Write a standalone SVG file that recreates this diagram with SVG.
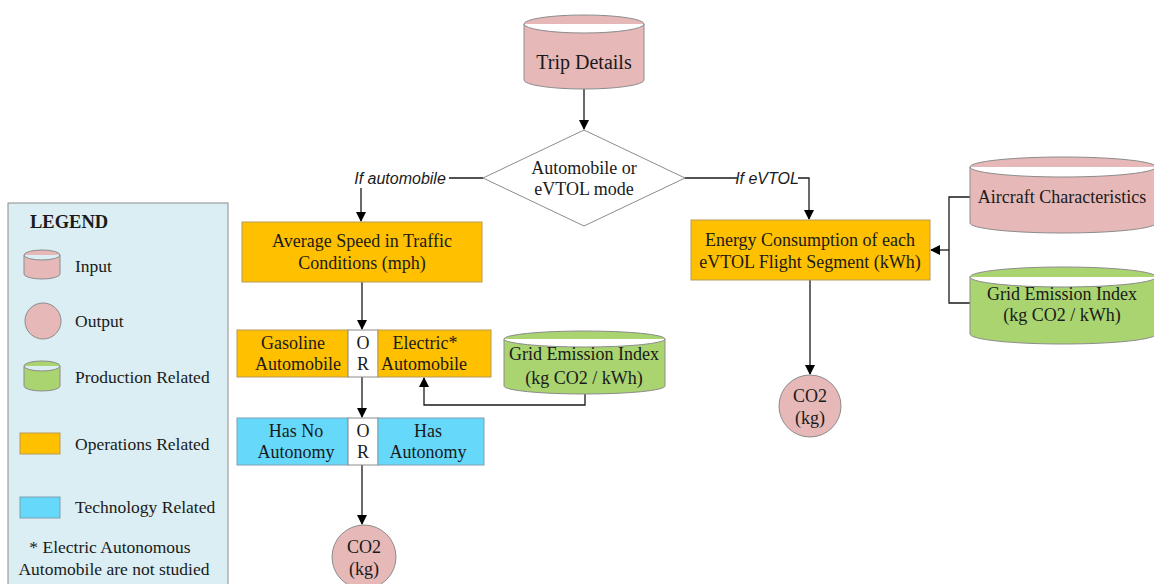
<svg xmlns="http://www.w3.org/2000/svg" width="1154" height="584" viewBox="0 0 1154 584">
<defs>
<style>
.t{font-family:"Liberation Serif","Times New Roman",serif;font-size:18px;fill:#1a1a1a;text-anchor:middle}
.tl{font-family:"Liberation Serif","Times New Roman",serif;font-size:17.5px;fill:#1a1a1a}
.lab{font-family:"Liberation Sans",Arial,sans-serif;font-size:16px;font-style:italic;fill:#1a1a1a;text-anchor:middle}
.pink{fill:#e6b8b7;stroke:#8c8c8c;stroke-width:1}
.green{fill:#a9d46f;stroke:#8c8c8c;stroke-width:1}
.orange{fill:#ffc000;stroke:#b59a5a;stroke-width:1}
.blue{fill:#66d9fb;stroke:#7f9fb0;stroke-width:1}
.white{fill:#ffffff;stroke:#8c8c8c;stroke-width:1}
.edge{fill:none;stroke:#1a1a1a;stroke-width:1.3}
</style>
<marker id="arr" markerWidth="10" markerHeight="10" refX="9" refY="5" orient="auto" markerUnits="userSpaceOnUse">
<path d="M0,0 L10,5 L0,10 z" fill="#000"/>
</marker>
</defs>
<rect width="1154" height="584" fill="#ffffff"/>

<g id="legend">
<rect x="8" y="203" width="220" height="385" fill="#daeef3" stroke="#8c8c8c"/>
<text x="30" y="228" style="font-family:'Liberation Serif',serif;font-size:18.5px;font-weight:bold;fill:#1a1a1a">LEGEND</text>
<path class="pink" d="M24,255 a18,5 0 0 1 36,0 v19 a18,5 0 0 1 -36,0 z M24,255 a18,5 0 0 0 36,0"/>
<text class="tl" x="75" y="272">Input</text>
<circle class="pink" cx="43" cy="321" r="18"/>
<text class="tl" x="75" y="327">Output</text>
<path class="green" d="M24,366 a18,5 0 0 1 36,0 v20 a18,5 0 0 1 -36,0 z M24,366 a18,5 0 0 0 36,0"/>
<text class="tl" x="75" y="383">Production Related</text>
<rect class="orange" x="20" y="433" width="40" height="21"/>
<text class="tl" x="75" y="450">Operations Related</text>
<rect class="blue" x="20" y="497" width="40" height="21"/>
<text class="tl" x="75" y="513">Technology Related</text>
<text class="t" x="110" y="553" style="font-size:17.5px">* Electric Autonomous</text>
<text class="t" x="114" y="575" style="font-size:17.5px">Automobile are not studied</text>
</g>

<g id="connectors">
<path class="edge" d="M584,89 V129" marker-end="url(#arr)"/>
<path class="edge" d="M483,178 H361 V221" marker-end="url(#arr)"/>
<path class="edge" d="M685,178 H809 V219" marker-end="url(#arr)"/>
<path class="edge" d="M362,282 V329" marker-end="url(#arr)"/>
<path class="edge" d="M362,377 V417" marker-end="url(#arr)"/>
<path class="edge" d="M362,465 V524" marker-end="url(#arr)"/>
<path class="edge" d="M585,394 V405 H424 V378" marker-end="url(#arr)"/>
<path class="edge" d="M810,280 V374" marker-end="url(#arr)"/>
<path class="edge" d="M970,197 H949 V303 H970"/>
<path class="edge" d="M949,250 H931" marker-end="url(#arr)"/>
<rect x="351" y="168" width="98" height="20" fill="#ffffff"/>
<text class="lab" x="400" y="184">If automobile</text>
<rect x="737" y="168" width="61" height="20" fill="#ffffff"/>
<text class="lab" x="767" y="184">If eVTOL</text>
</g>

<g id="trip">
<path class="pink" d="M524,24 a60,9 0 0 1 120,0 v56 a60,9 0 0 1 -120,0 z M524,24 a60,9 0 0 0 120,0"/>
<text class="t" x="584" y="69" style="font-size:20px">Trip Details</text>
</g>

<g id="mode">
<polygon class="white" points="584,130 685,178 584,226 483,178"/>
<text class="t" x="584" y="174">Automobile or</text>
<text class="t" x="584" y="195">eVTOL mode</text>
</g>

<g id="speed">
<rect class="orange" x="242" y="222" width="240" height="60"/>
<text class="t" x="362" y="247">Average Speed in Traffic</text>
<text class="t" x="362" y="269">Conditions (mph)</text>
</g>

<g id="fuel">
<rect class="orange" x="237" y="330" width="111" height="47"/>
<rect class="white" x="348" y="330" width="30" height="47"/>
<rect class="orange" x="378" y="330" width="113" height="47"/>
<text class="t" x="293" y="349">Gasoline</text>
<text class="t" x="298" y="370">Automobile</text>
<text class="t" x="363" y="349">O</text>
<text class="t" x="363" y="370">R</text>
<text class="t" x="425" y="349">Electric*</text>
<text class="t" x="424" y="370">Automobile</text>
</g>

<g id="autonomy">
<rect class="blue" x="237" y="418" width="111" height="47"/>
<rect class="white" x="348" y="418" width="30" height="47"/>
<rect class="blue" x="378" y="418" width="106" height="47"/>
<text class="t" x="296" y="437">Has No</text>
<text class="t" x="296" y="458">Autonomy</text>
<text class="t" x="363" y="437">O</text>
<text class="t" x="363" y="458">R</text>
<text class="t" x="428" y="437">Has</text>
<text class="t" x="428" y="458">Autonomy</text>
</g>

<g id="grid-left">
<path class="green" d="M504,339 a80.5,8 0 0 1 161,0 v47 a80.5,8 0 0 1 -161,0 z M504,339 a80.5,8 0 0 0 161,0"/>
<text class="t" x="584" y="360">Grid Emission Index</text>
<text class="t" x="584" y="384">(kg CO2 / kWh)</text>
</g>

<g id="co2-left">
<circle class="pink" cx="364" cy="557" r="32"/>
<text class="t" x="364" y="553">CO2</text>
<text class="t" x="364" y="575">(kg)</text>
</g>

<g id="energy">
<rect class="orange" x="691" y="220" width="239" height="60"/>
<text class="t" x="810" y="246">Energy Consumption of each</text>
<text class="t" x="810" y="268">eVTOL Flight Segment (kWh)</text>
</g>

<g id="aircraft">
<path class="pink" d="M970,167 a93,10 0 0 1 186,0 v56 a93,10 0 0 1 -186,0 z M970,167 a93,10 0 0 0 186,0"/>
<text class="t" x="1062" y="203">Aircraft Characteristics</text>
</g>

<g id="grid-right">
<path class="green" d="M970,277 a93,10 0 0 1 186,0 v57 a93,10 0 0 1 -186,0 z M970,277 a93,10 0 0 0 186,0"/>
<text class="t" x="1062" y="300">Grid Emission Index</text>
<text class="t" x="1062" y="321">(kg CO2 / kWh)</text>
</g>

<g id="co2-right">
<circle class="pink" cx="810" cy="406" r="31"/>
<text class="t" x="810" y="402">CO2</text>
<text class="t" x="810" y="424">(kg)</text>
</g>
</svg>
